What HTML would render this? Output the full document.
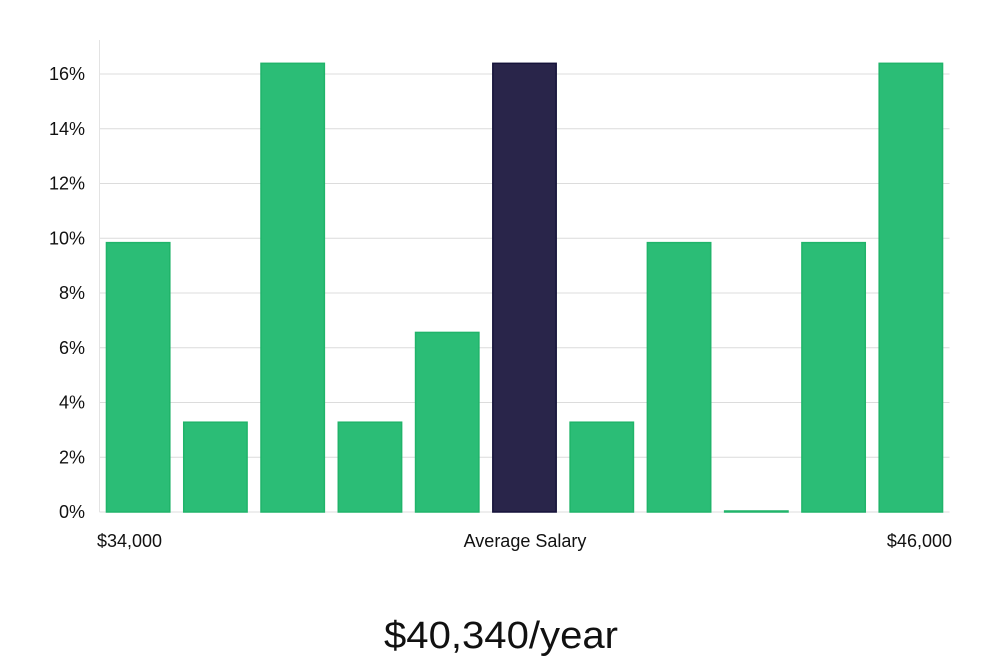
<!DOCTYPE html>
<html><head><meta charset="utf-8"><style>
body{margin:0;background:#fff;width:1000px;height:660px;overflow:hidden;font-family:"Liberation Sans","DejaVu Sans",sans-serif}
</style></head><body>
<svg width="1000" height="660" xmlns="http://www.w3.org/2000/svg">
<g id="grid"></g>
<line x1="99.5" y1="40" x2="99.5" y2="512" stroke="#e3e3e3" stroke-width="1"/>
<g id="yticks"></g>
<g id="bars"></g>
<text x="97" y="547" font-size="18" fill="#111">$34,000</text>
<text x="525" y="547" font-size="18" fill="#111" text-anchor="middle">Average Salary</text>
<text x="952" y="547" font-size="18" fill="#111" text-anchor="end">$46,000</text>
<text x="501" y="648" font-size="38" fill="#111" text-anchor="middle" textLength="234" lengthAdjust="spacingAndGlyphs">$40,340/year</text>
</svg>
<script>
const categories=["b1","b2","b3","b4","b5","b6","b7","b8","b9","b10","b11"];
const values=[9.84,3.28,16.39,3.28,6.56,16.39,3.28,9.84,0,9.84,16.39];
const highlight=[false,false,false,false,false,true,false,false,false,false,false];
const yTicks=[0,2,4,6,8,10,12,14,16];
const yTickLabels=["0%","2%","4%","6%","8%","10%","12%","14%","16%"];
const NS="http://www.w3.org/2000/svg";
const x0=99.5,x1=949.5,y0=512,yPer=27.375;
const y=v=>y0-v*yPer;
const band=(x1-x0)/categories.length;
const bx=i=>x0+i*band;
const grid=document.getElementById('grid'),yt=document.getElementById('yticks'),bars=document.getElementById('bars');
yTicks.forEach((t,i)=>{
  const l=document.createElementNS(NS,'line');
  l.setAttribute('x1',x0);l.setAttribute('x2',x1);l.setAttribute('y1',y(t));l.setAttribute('y2',y(t));
  l.setAttribute('stroke','#dcdcdc');l.setAttribute('stroke-width','1');
  
  
  grid.appendChild(l);
  const tx=document.createElementNS(NS,'text');
  tx.setAttribute('x',85);tx.setAttribute('y',y(t)+6);tx.setAttribute('text-anchor','end');
  tx.setAttribute('font-size','18');tx.setAttribute('fill','#111');
  tx.textContent=yTickLabels[i];
  
  
  yt.appendChild(tx);
});
categories.forEach((c,i)=>{
  const pad=band*0.09,w=band-2*pad;
  const h=Math.max(values[i]*yPer,1);
  const r=document.createElementNS(NS,'rect');
  r.setAttribute('x',bx(i)+pad);r.setAttribute('y',y0-h);r.setAttribute('width',w);r.setAttribute('height',h);
  r.setAttribute('fill',highlight[i]?'#29254a':'#2bbd76');
  r.setAttribute('stroke',highlight[i]?'#15123a':'#20b46a');r.setAttribute('stroke-width','1.5');
  
  
  bars.appendChild(r);
});
</script>
</body></html>
